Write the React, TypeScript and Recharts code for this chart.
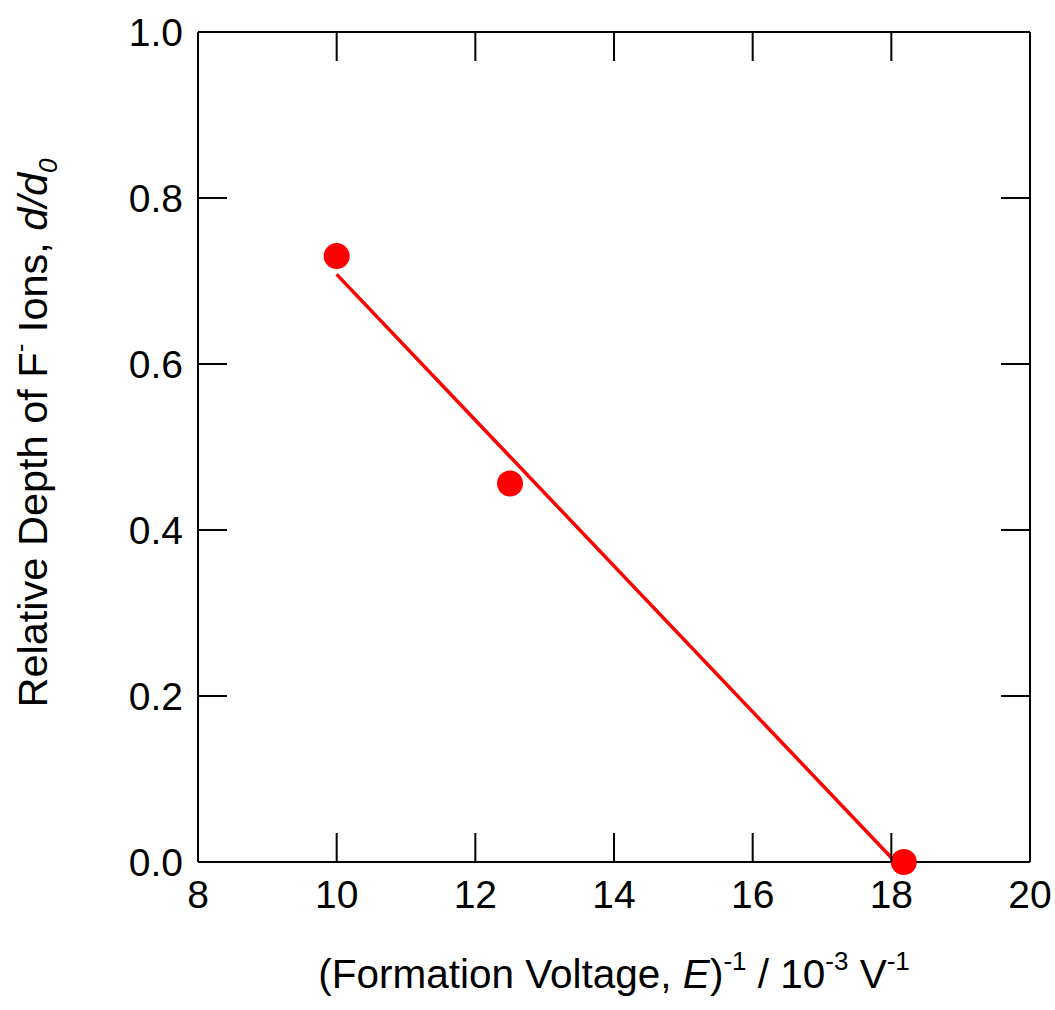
import React from 'react';
import { ScatterChart, Scatter, XAxis, YAxis } from 'recharts';

// measured points (E^-1 in 10^-3 V^-1, relative depth d/d0)
const voltageInv = [10, 12.5, 18.18];
const relDepth = [0.73, 0.456, 0.0];

// least-squares fit line endpoints
const fitX = [10, 18.06];
const fitY = [0.708, 0.0];

const xTicks = [8, 10, 12, 14, 16, 18, 20];
const yTicks = [0, 0.2, 0.4, 0.6, 0.8, 1.0];

const points = voltageInv.map((x, i) => ({ x, y: relDepth[i] }));
const fit = fitX.map((x, i) => ({ x, y: fitY[i] }));

const FONT = '"Liberation Sans", Arial, Helvetica, sans-serif';
const TICK_LEN = 29;
const RED = '#ff0000';

const BottomTick = (props: any) => {
  const { x, y, payload } = props;
  return (
    <g>
      <line x1={x} x2={x} y1={y} y2={y - TICK_LEN} stroke="#000" strokeWidth={2} />
      <text x={x} y={y + 46} textAnchor="middle" fontSize={39} fontFamily={FONT} fill="#000">
        {payload.value}
      </text>
    </g>
  );
};

const LeftTick = (props: any) => {
  const { x, y, payload } = props;
  return (
    <g>
      <line x1={x} x2={x + TICK_LEN} y1={y} y2={y} stroke="#000" strokeWidth={2} />
      <text x={x - 15} y={y + 14} textAnchor="end" fontSize={39} fontFamily={FONT} fill="#000">
        {Number(payload.value).toFixed(1)}
      </text>
    </g>
  );
};

const TopTick = (props: any) => {
  const { x, y } = props;
  return <line x1={x} x2={x} y1={y} y2={y + TICK_LEN} stroke="#000" strokeWidth={2} />;
};

const RightTick = (props: any) => {
  const { x, y } = props;
  return <line x1={x} x2={x - TICK_LEN} y1={y} y2={y} stroke="#000" strokeWidth={2} />;
};

const Dot = (props: any) => {
  const { cx, cy } = props;
  return <circle cx={cx} cy={cy} r={13} fill={RED} />;
};

const NoShape = () => <g />;

const XTitle = (props: any) => {
  const vb = props.viewBox;
  const cx = vb.x + vb.width / 2;
  return (
    <text x={cx} y={vb.y + 126} textAnchor="middle" fontSize={40.5} fontFamily={FONT} fill="#000">
      <tspan>(Formation Voltage, </tspan>
      <tspan fontStyle="italic">E</tspan>
      <tspan>)</tspan>
      <tspan dy={-18} fontSize={26}>-1</tspan>
      <tspan dy={18}> / 10</tspan>
      <tspan dy={-18} fontSize={26}>-3</tspan>
      <tspan dy={18}> V</tspan>
      <tspan dy={-18} fontSize={26}>-1</tspan>
    </text>
  );
};

const YTitle = () => (
  <text
    transform="translate(47, 433) rotate(-90)"
    x={0}
    y={0}
    textAnchor="middle"
    fontSize={41.5}
    fontFamily={FONT}
    fill="#000"
  >
    <tspan>Relative Depth of F</tspan>
    <tspan dy={-18} fontSize={26}>-</tspan>
    <tspan dy={18}> Ions, </tspan>
    <tspan fontStyle="italic">d/d</tspan>
    <tspan dy={10} fontSize={26} fontStyle="italic">0</tspan>
  </text>
);

export default function App() {
  return (
    <div style={{ position: 'absolute', left: 0, top: 0, background: '#fff' }}>
      <ScatterChart width={1055} height={1010} margin={{ top: 31, right: 24, bottom: 0, left: 0 }}>
        <XAxis
          type="number"
          dataKey="x"
          domain={[8, 20]}
          ticks={xTicks}
          height={148}
          tickSize={0}
          tickMargin={0}
          tickLine={false}
          axisLine={{ stroke: '#000', strokeWidth: 2 }}
          tick={<BottomTick />}
          label={<XTitle />}
        />
        <XAxis
          xAxisId="top"
          orientation="top"
          type="number"
          dataKey="x"
          domain={[8, 20]}
          ticks={xTicks}
          height={1}
          tickSize={0}
          tickMargin={0}
          tickLine={false}
          axisLine={{ stroke: '#000', strokeWidth: 2 }}
          tick={<TopTick />}
        />
        <YAxis
          type="number"
          dataKey="y"
          domain={[0, 1]}
          ticks={yTicks}
          width={198}
          tickSize={0}
          tickMargin={0}
          tickLine={false}
          axisLine={{ stroke: '#000', strokeWidth: 2 }}
          tick={<LeftTick />}
          label={<YTitle />}
        />
        <YAxis
          yAxisId="right"
          orientation="right"
          type="number"
          dataKey="y"
          domain={[0, 1]}
          ticks={yTicks}
          width={1}
          tickSize={0}
          tickMargin={0}
          tickLine={false}
          axisLine={{ stroke: '#000', strokeWidth: 2 }}
          tick={<RightTick />}
        />
        {/* invisible series so the top/right frame axes get their ticks */}
        <Scatter
          data={fit}
          xAxisId="top"
          yAxisId="right"
          shape={NoShape}
          isAnimationActive={false}
        />
        <Scatter
          data={fit}
          line={{ stroke: RED, strokeWidth: 3.5 }}
          shape={NoShape}
          isAnimationActive={false}
        />
        <Scatter data={points} shape={<Dot />} isAnimationActive={false} />
      </ScatterChart>
    </div>
  );
}
